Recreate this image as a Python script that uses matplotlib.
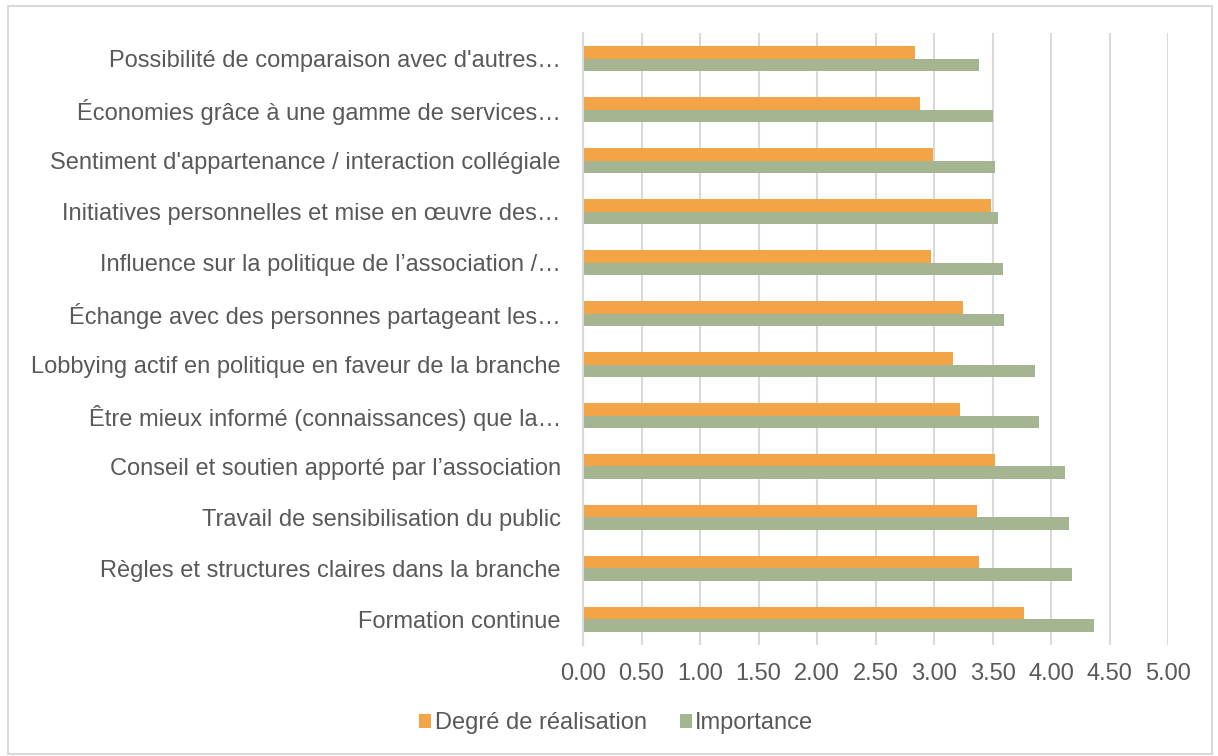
import matplotlib
matplotlib.use("Agg")
from matplotlib import pyplot as plt
import numpy as np

plt.rcParams['font.family'] = ['Liberation Sans', 'DejaVu Sans']

# categories, bottom to top
categories = [
    "Formation continue",
    "Règles et structures claires dans la branche",
    "Travail de sensibilisation du public",
    "Conseil et soutien apporté par l’association",
    "Être mieux informé (connaissances) que la…",
    "Lobbying actif en politique en faveur de la branche",
    "Échange avec des personnes partageant les…",
    "Influence sur la politique de l’association /…",
    "Initiatives personnelles et mise en œuvre des…",
    "Sentiment d'appartenance / interaction collégiale",
    "Économies grâce à une gamme de services…",
    "Possibilité de comparaison avec d'autres…",
]
realisation = [3.77, 3.38, 3.37, 3.52, 3.22, 3.16, 3.25, 2.97, 3.49, 2.99, 2.88, 2.84]
importance = [4.37, 4.18, 4.15, 4.12, 3.90, 3.86, 3.60, 3.59, 3.55, 3.52, 3.50, 3.38]
xticks = np.arange(0, 5.01, 0.5)

orange = "#F2A446"
green = "#A5B591"
txt = "#595959"
fs = 17

fig = plt.figure(figsize=(12.18, 7.56), dpi=100)
ax = fig.add_axes([0.4787, 0.147, 0.4803, 0.809])

y = np.arange(len(categories))
h = 0.25
ax.barh(y + h / 2, realisation, height=h, color=orange, label="Degré de réalisation", zorder=3)
ax.barh(y - h / 2, importance, height=h, color=green, label="Importance", zorder=3)

ax.set_xlim(0, 5)
ax.set_ylim(-0.5, len(categories) - 0.5)
ax.set_xticks(xticks)
ax.set_xticklabels(["%.2f" % v for v in xticks], fontsize=fs, color=txt)
ax.set_yticks(y)
ax.set_yticklabels(categories, fontsize=fs, color=txt)
ax.tick_params(axis='both', length=0)
ax.tick_params(axis='y', pad=16)
ax.tick_params(axis='x', pad=13)
ax.grid(axis='x', color="#D9D9D9", linewidth=1.5, zorder=0)
for s in ["top", "right", "bottom"]:
    ax.spines[s].set_visible(False)
ax.spines["left"].set_color("#D9D9D9")
ax.spines["left"].set_linewidth(1.5)
ax.spines["left"].set_zorder(4)

handles, labels = ax.get_legend_handles_labels()
fig.legend(handles, labels, loc="center", bbox_to_anchor=(0.506, 0.043), ncol=2,
           frameon=False, fontsize=fs, handlelength=0.5, handleheight=0.5,
           handletextpad=0.15, columnspacing=1.4, labelcolor=txt)

# outer chart frame
fig.add_artist(plt.Rectangle((8 / 1218, 0.003), 1204 / 1218, 1 - 5.5 / 756 - 0.003,
                             transform=fig.transFigure, fill=False,
                             edgecolor="#D9D9D9", linewidth=1.5))

fig.savefig("out.png", dpi=100)
